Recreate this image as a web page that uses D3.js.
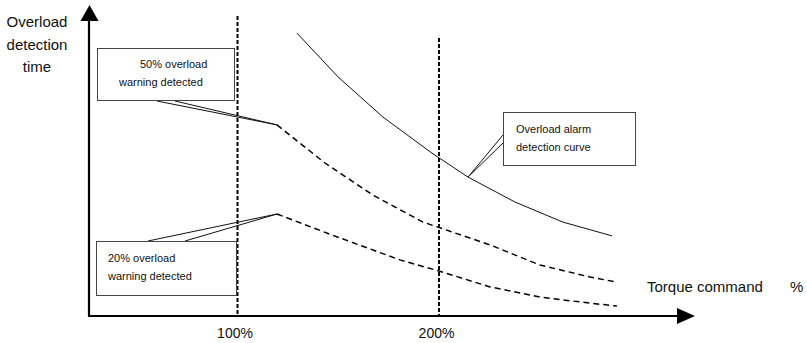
<!DOCTYPE html>
<html>
<head>
<meta charset="utf-8">
<script src="https://cdn.jsdelivr.net/npm/d3@7"></script>
<style>
  body { margin: 0; background: #fff; }
  svg { display: block; font-family: "Liberation Sans", Arial, sans-serif; }
</style>
</head>
<body>
<svg></svg>
<script>
// torque command (%) and relative detection time (arbitrary units, 0-100)
const alarm_torque = [129.5, 149.9, 172.2, 196.5, 214.4, 237.7, 261.5, 285.9];
const alarm_time = [94.3, 79.7, 66.3, 54.3, 46.3, 38.0, 31.3, 26.7];

const warn50_torque = [119.6, 143.4, 167.2, 192.1, 225.3, 250.1, 274.9, 288.3];
const warn50_time = [63.7, 51.0, 40.3, 31.3, 23.7, 17.0, 13.0, 11.3];

const warn20_torque = [119.6, 146.9, 180.6, 200.0, 225.3, 250.1, 274.9, 288.3];
const warn20_time = [34.0, 27.0, 18.7, 15.0, 9.7, 6.3, 4.3, 3.3];

const ref_torque = [100, 200];
const tick_labels = ["100%", "200%"];

const y_label = ["Overload", "detection", "time"];
const x_label = "Torque command";
const x_unit = "%";
const alarm_note = ["Overload alarm", "detection curve"];
const warn50_note = ["50% overload", "warning detected"];
const warn20_note = ["20% overload", "warning detected"];

const width = 807, height = 343;
const origin = { x: 89, y: 316 };

const svg = d3.select("svg").attr("width", width).attr("height", height);

const x_scale = d3.scaleLinear().domain([100, 200]).range([237.5, 439]);
const y_scale = d3.scaleLinear().domain([0, 100]).range([origin.y, 16]);

const zip = (xs, ys) => xs.map((x, i) => ({ x: x, y: ys[i] }));
const alarm = zip(alarm_torque, alarm_time);
const warn50 = zip(warn50_torque, warn50_time);
const warn20 = zip(warn20_torque, warn20_time);

const line_generator = d3.line()
  .x((d) => x_scale(d.x))
  .y((d) => y_scale(d.y));

// reference lines at 100% / 200%
const ref_tops = [16, 38];
svg.selectAll(".ref")
  .data(ref_torque)
  .enter()
  .append("line")
  .attr("x1", (d) => x_scale(d))
  .attr("x2", (d) => x_scale(d))
  .attr("y1", (d, i) => ref_tops[i])
  .attr("y2", origin.y)
  .attr("stroke", "#000")
  .attr("stroke-width", 2)
  .attr("stroke-dasharray", "4,2");

// curves
svg.append("path")
  .attr("fill", "none")
  .attr("stroke", "#111")
  .attr("stroke-width", 1)
  .attr("d", line_generator(alarm));

[warn50, warn20].forEach((s) => {
  svg.append("path")
    .attr("fill", "none")
    .attr("stroke", "#000")
    .attr("stroke-width", 1.5)
    .attr("stroke-dasharray", "6,4")
    .attr("d", line_generator(s));
});

// axes with arrows
svg.append("line")
  .attr("x1", origin.x).attr("y1", origin.y)
  .attr("x2", origin.x).attr("y2", 20)
  .attr("stroke", "#000").attr("stroke-width", 2.2);
svg.append("path")
  .attr("d", `M${origin.x - 8.5},21 L${origin.x + 0.5},5 L${origin.x + 9.5},21 Z`)
  .attr("fill", "#000");

svg.append("line")
  .attr("x1", origin.x - 1).attr("y1", origin.y)
  .attr("x2", 678).attr("y2", origin.y)
  .attr("stroke", "#000").attr("stroke-width", 2.2);
svg.append("path")
  .attr("d", `M677,${origin.y - 8} L695,${origin.y} L677,${origin.y + 8} Z`)
  .attr("fill", "#000");

// tick labels
const x_axis = d3.axisBottom(x_scale)
  .tickValues(ref_torque)
  .tickSize(0)
  .tickPadding(12)
  .tickFormat((d, i) => tick_labels[i]);
const gx = svg.append("g")
  .attr("transform", `translate(-3,${origin.y})`)
  .call(x_axis);
gx.select(".domain").remove();
gx.selectAll("text")
  .style("font-size", "14px")
  .style("font-family", "'Liberation Sans', Arial, sans-serif")
  .attr("fill", "#111");

// axis titles
svg.append("text")
  .attr("text-anchor", "middle")
  .style("font-size", "15px")
  .attr("fill", "#111")
  .selectAll("tspan")
  .data(y_label)
  .enter()
  .append("tspan")
  .attr("x", 37)
  .attr("y", (d, i) => 27 + i * 22.5)
  .text((d) => d);

svg.append("text")
  .attr("x", 647).attr("y", 292)
  .style("font-size", "15px")
  .attr("fill", "#111")
  .text(x_label);
svg.append("text")
  .attr("x", 790).attr("y", 292)
  .style("font-size", "15px")
  .attr("fill", "#111")
  .text(x_unit);

// callouts
function callout(box, base, tip, lines, text_x, first_y) {
  svg.append("path")
    .attr("d", `M${base[0]},${base[1]} L${tip[0]},${tip[1]} L${base[2]},${base[3]}`)
    .attr("fill", "none")
    .attr("stroke", "#111")
    .attr("stroke-width", 1);
  svg.append("rect")
    .attr("x", box.x).attr("y", box.y)
    .attr("width", box.w).attr("height", box.h)
    .attr("fill", "#fff")
    .attr("stroke", "#444")
    .attr("stroke-width", 1);
  svg.append("text")
    .style("font-size", "11px")
    .attr("fill", "#111")
    .selectAll("tspan")
    .data(lines)
    .enter()
    .append("tspan")
    .attr("x", (d, i) => text_x[i])
    .attr("y", (d, i) => first_y + i * 18)
    .text((d) => d);
}

const tip50 = [x_scale(warn50[0].x), y_scale(warn50[0].y)];
const tip20 = [x_scale(warn20[0].x), y_scale(warn20[0].y)];
const tipAlarm = [x_scale(alarm[4].x), y_scale(alarm[4].y)];

callout({ x: 97.5, y: 48.5, w: 137, h: 52 }, [157, 101, 175, 101], tip50,
  warn50_note, [140, 119], 68);
callout({ x: 503.5, y: 112.5, w: 132, h: 53 }, [503, 135, 503, 143], tipAlarm,
  alarm_note, [516, 516], 133);
callout({ x: 96.5, y: 241.5, w: 140, h: 54 }, [148, 241, 185, 241], tip20,
  warn20_note, [108, 108], 262);
</script>
</body>
</html>
